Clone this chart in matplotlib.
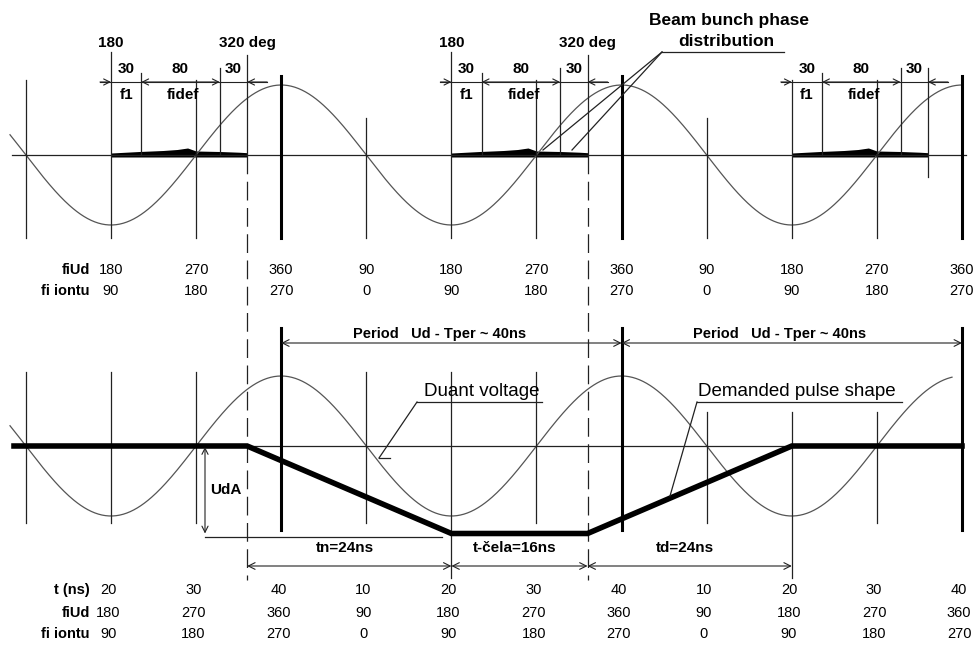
import numpy as np
import matplotlib
matplotlib.use("Agg")
import matplotlib.pyplot as plt

plt.rcParams['font.family'] = ['Liberation Sans', 'DejaVu Sans']

# --- data ---
phase_ticks = [180, 270, 360, 450, 540, 630, 720, 810, 900, 990, 1080]
fiud_lab = ['180', '270', '360', '90', '180', '270', '360', '90', '180', '270', '360']
fiion_lab = ['90', '180', '270', '0', '90', '180', '270', '0', '90', '180', '270']
t_lab = ['20', '30', '40', '10', '20', '30', '40', '10', '20', '30', '40']

bunch_groups = [180, 540, 900]          # phase where bunch window starts
bunch_edges = [0, 32, 115, 144]          # f1 / fidef / tail / 320 deg (offsets)
bunch_dims = ['30', '80', '30']
bunch_prof_ph = [0, 10, 30, 55, 70, 81, 90, 115, 135, 144]
bunch_prof_h = [2.0, 2.5, 3.5, 4.5, 5.5, 7.0, 4.0, 3.5, 2.8, 2.3]

pulse_t = [8.6, 36, 60, 76, 100, 120]   # ns
pulse_u = [0, 0, -1.25, -1.25, 0, 0]    # in units of Ud amplitude
dim_t = [36, 60, 76, 100]
dim_lab = ['tn=24ns', 't-čela=16ns', 'td=24ns']
NS2DEG = 9.0                              # 40 ns <-> 360 deg

# --- layout ---
K = 851 / 900.0                           # px per degree
def px(x):
    return 180 + (x - 111) / K

TOP_Y, BOT_Y, AMP = 155, 446, 70
C = '#222222'
WAVE = '#555555'

fig = plt.figure(figsize=(9.78, 6.46), dpi=100)
ax = fig.add_axes([0, 0, 1, 1])
ax.set_xlim(px(0), px(978))
ax.set_ylim(646, 0)
ax.axis('off')

# ---------- top panel ----------
ph = np.linspace(px(10), 1080, 800)
ax.plot(ph, TOP_Y - AMP * np.cos(np.radians(ph)), color=WAVE, lw=0.9)
ax.plot([px(12), px(966)], [TOP_Y, TOP_Y], color=C, lw=0.9)

tops = {0: 52, 90: 118, 270: 80}
for p in phase_ticks:
    if p % 360 == 0:
        ax.plot([p, p], [76, 238], color='black', lw=2.2)
    else:
        top = tops[p % 360 if p % 360 != 180 else 0]
        if p == 900:
            top = 80
        ax.plot([p, p], [top, 238], color=C, lw=0.9)
ax.plot([90, 90], [80, 238], color=C, lw=0.9)

for i, g in enumerate(bunch_groups):
    e = [g + b for b in bunch_edges]
    ax.plot([e[1], e[1]], [73, TOP_Y], color=C, lw=0.9)
    ax.plot([e[2], e[2]], [68, TOP_Y], color=C, lw=0.9)
    if i < 2:
        ax.plot([e[3], e[3]], [55, TOP_Y], color=C, lw=0.9)
        ax.plot([e[3], e[3]], [TOP_Y, 580], color=C, lw=0.9, ls=(0, (15, 6)))
        ax.text(g, 43, '180', ha='center', va='center', fontsize=11, fontweight='bold')
        ax.text(e[3], 43, '320 deg', ha='center', va='center', fontsize=11, fontweight='bold')
    else:
        ax.plot([e[3], e[3]], [68, 177], color=C, lw=0.9)
    # dimension line
    ax.plot([e[0] - 11 / K, e[3] + 20 / K], [82, 82], color=C, lw=0.8)
    ap = dict(arrowstyle='->', color=C, lw=0.8, mutation_scale=11, shrinkA=0, shrinkB=0)
    ax.annotate('', xy=(e[0], 82), xytext=(e[0] - 11 / K, 82), arrowprops=ap)
    ax.annotate('', xy=(e[3], 82), xytext=(e[3] + 20 / K, 82), arrowprops=ap)
    ax.annotate('', xy=(e[2], 82), xytext=(e[1], 82),
                arrowprops=dict(ap, arrowstyle='<->'))
    for k, lab in enumerate(bunch_dims):
        ax.text((e[k] + e[k + 1]) / 2, 69, lab, ha='center', va='center',
                fontsize=11, fontweight='bold')
    ax.text((e[0] + e[1]) / 2, 95, 'f1', ha='center', va='center', fontsize=11, fontweight='bold')
    ax.text((e[1] + e[2]) / 2 + 3, 95, 'fidef', ha='center', va='center', fontsize=11, fontweight='bold')
    # beam bunch distribution
    bp = g + np.array(bunch_prof_ph)
    ax.fill_between(bp, TOP_Y + 2, TOP_Y - np.array(bunch_prof_h), color='black', lw=0)

ax.text(px(729), 21, 'Beam bunch phase', ha='center', va='center', fontsize=12.5, fontweight='bold')
ax.text(px(726), 42, 'distribution', ha='center', va='center', fontsize=12.5, fontweight='bold')
ax.plot([px(662), px(784)], [52, 52], color=C, lw=0.9)
ax.plot([px(662), px(543)], [52, 150], color=C, lw=0.9)
ax.plot([px(662), px(572)], [52, 150], color=C, lw=0.9)

# phase rows under top panel
ax.text(px(90), 270, 'fiUd', ha='right', va='center', fontsize=10.5, fontweight='bold')
ax.text(px(90), 291, 'fi iontu', ha='right', va='center', fontsize=10.5, fontweight='bold')
for p, a, b in zip(phase_ticks, fiud_lab, fiion_lab):
    ax.text(p, 270, a, ha='center', va='center', fontsize=10.5)
    ax.text(p, 291, b, ha='center', va='center', fontsize=10.5)

# ---------- bottom panel ----------
ph2 = np.linspace(px(10), px(952), 800)
ax.plot(ph2, BOT_Y - AMP * np.cos(np.radians(ph2)), color=WAVE, lw=0.9)
ax.plot([px(14), px(961)], [BOT_Y, BOT_Y], color=C, lw=0.9)

for p in [90] + phase_ticks:
    if p % 360 == 0:
        ax.plot([p, p], [328, 530], color='black', lw=2.2)
        continue
    top = 412 if p > 720 else 372
    bot = 578 if p in (540, 900) else 523
    ax.plot([p, p], [top, bot], color=C, lw=0.9)

# period dimensions
ax.annotate('', xy=(360, 343), xytext=(720, 343),
            arrowprops=dict(arrowstyle='<->', color=C, lw=0.8, mutation_scale=12, shrinkA=0, shrinkB=0))
ax.annotate('', xy=(720, 343), xytext=(1080, 343),
            arrowprops=dict(arrowstyle='<->', color=C, lw=0.8, mutation_scale=12, shrinkA=0, shrinkB=0))
ax.text(px(440), 334, 'Period   Ud - Tper ~ 40ns', ha='center', va='center', fontsize=10.5, fontweight='bold')
ax.text(px(780), 334, 'Period   Ud - Tper ~ 40ns', ha='center', va='center', fontsize=10.5, fontweight='bold')

# demanded pulse
pp = np.array(pulse_t) * NS2DEG
ax.plot(pp, BOT_Y - AMP * np.array(pulse_u), color='black', lw=4, solid_joinstyle='miter')

# UdA
y_low = BOT_Y - AMP * min(pulse_u)
ax.annotate('', xy=(px(205), BOT_Y + 1), xytext=(px(205), y_low),
            arrowprops=dict(arrowstyle='<->', color=C, lw=0.8, mutation_scale=11, shrinkA=0, shrinkB=0))
ax.plot([px(205), px(442)], [y_low + 3, y_low + 3], color=C, lw=0.9)
ax.text(px(210), 490, 'UdA', ha='left', va='center', fontsize=11, fontweight='bold')

# time dimensions
for k, lab in enumerate(dim_lab):
    a, b = dim_t[k] * NS2DEG, dim_t[k + 1] * NS2DEG
    ax.annotate('', xy=(a, 566), xytext=(b, 566),
                arrowprops=dict(arrowstyle='<->', color=C, lw=0.8, mutation_scale=12, shrinkA=0, shrinkB=0))
    ax.text((a + b) / 2 - 5, 548, lab, ha='center', va='center', fontsize=11, fontweight='bold')

# labels with leaders
ax.text(px(482), 392, 'Duant voltage', ha='center', va='center', fontsize=13.5)
ax.plot([px(417), px(542)], [402, 402], color=C, lw=0.9)
ax.plot([px(417), px(379)], [402, 458], color=C, lw=0.9)
ax.plot([px(379), px(390)], [458, 458], color=C, lw=0.9)

ax.text(px(797), 392, 'Demanded pulse shape', ha='center', va='center', fontsize=13.5)
ax.plot([px(697), px(902)], [402, 402], color=C, lw=0.9)
ax.plot([px(697), px(670)], [402, 496], color=C, lw=0.9)

# rows under bottom panel
ax.text(px(90), 590, 't (ns)', ha='right', va='center', fontsize=10.5, fontweight='bold')
ax.text(px(90), 613, 'fiUd', ha='right', va='center', fontsize=10.5, fontweight='bold')
ax.text(px(90), 634, 'fi iontu', ha='right', va='center', fontsize=10.5, fontweight='bold')
for p, a, b, c in zip(phase_ticks, t_lab, fiud_lab, fiion_lab):
    ax.text(p - 3, 590, a, ha='center', va='center', fontsize=10.5)
    ax.text(p - 3, 613, b, ha='center', va='center', fontsize=10.5)
    ax.text(p - 3, 634, c, ha='center', va='center', fontsize=10.5)

fig.savefig('out.png', dpi=100, facecolor='white')
